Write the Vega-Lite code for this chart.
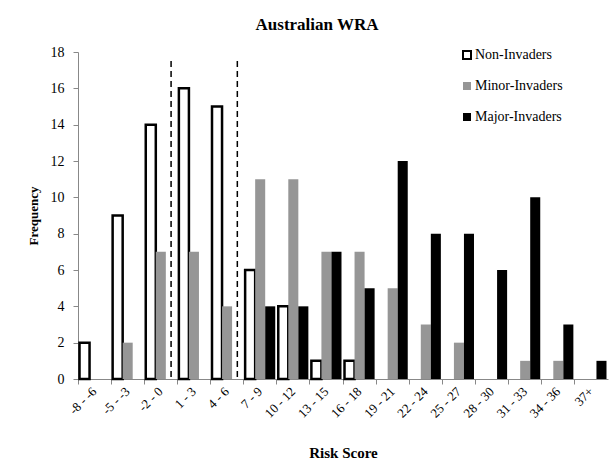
{
  "$schema": "https://vega.github.io/schema/vega-lite/v6.json",
  "width": 530,
  "height": 327,
  "autosize": {"type": "none"},
  "padding": {"left": 78, "top": 52, "right": 5, "bottom": 86},
  "background": "white",
  "title": {"text": "Australian WRA", "font": "Liberation Serif", "fontSize": 17, "fontWeight": "bold", "color": "black", "anchor": "middle", "offset": 11, "dx": -26},
  "config": {"view": {"stroke": null}, "font": "Liberation Serif"},
  "datasets": {
    "bars": [
      {"score": "-8 - -6", "group": "Non-Invaders", "count": 2},
      {"score": "-5 - -3", "group": "Non-Invaders", "count": 9},
      {"score": "-5 - -3", "group": "Minor-Invaders", "count": 2},
      {"score": "-2 - 0", "group": "Non-Invaders", "count": 14},
      {"score": "-2 - 0", "group": "Minor-Invaders", "count": 7},
      {"score": "1 - 3", "group": "Non-Invaders", "count": 16},
      {"score": "1 - 3", "group": "Minor-Invaders", "count": 7},
      {"score": "4 - 6", "group": "Non-Invaders", "count": 15},
      {"score": "4 - 6", "group": "Minor-Invaders", "count": 4},
      {"score": "7 - 9", "group": "Non-Invaders", "count": 6},
      {"score": "7 - 9", "group": "Minor-Invaders", "count": 11},
      {"score": "7 - 9", "group": "Major-Invaders", "count": 4},
      {"score": "10 - 12", "group": "Non-Invaders", "count": 4},
      {"score": "10 - 12", "group": "Minor-Invaders", "count": 11},
      {"score": "10 - 12", "group": "Major-Invaders", "count": 4},
      {"score": "13 - 15", "group": "Non-Invaders", "count": 1},
      {"score": "13 - 15", "group": "Minor-Invaders", "count": 7},
      {"score": "13 - 15", "group": "Major-Invaders", "count": 7},
      {"score": "16 - 18", "group": "Non-Invaders", "count": 1},
      {"score": "16 - 18", "group": "Minor-Invaders", "count": 7},
      {"score": "16 - 18", "group": "Major-Invaders", "count": 5},
      {"score": "19 - 21", "group": "Minor-Invaders", "count": 5},
      {"score": "19 - 21", "group": "Major-Invaders", "count": 12},
      {"score": "22 - 24", "group": "Minor-Invaders", "count": 3},
      {"score": "22 - 24", "group": "Major-Invaders", "count": 8},
      {"score": "25 - 27", "group": "Minor-Invaders", "count": 2},
      {"score": "25 - 27", "group": "Major-Invaders", "count": 8},
      {"score": "28 - 30", "group": "Major-Invaders", "count": 6},
      {"score": "31 - 33", "group": "Minor-Invaders", "count": 1},
      {"score": "31 - 33", "group": "Major-Invaders", "count": 10},
      {"score": "34 - 36", "group": "Minor-Invaders", "count": 1},
      {"score": "34 - 36", "group": "Major-Invaders", "count": 3},
      {"score": "37+", "group": "Major-Invaders", "count": 1}
    ],
    "lines": [
      {"score": "-2 - 0", "top": 17.5, "bottom": 0},
      {"score": "4 - 6", "top": 17.5, "bottom": 0}
    ]
  },
  "layer": [
    {
      "data": {"name": "bars"},
      "mark": {"type": "bar", "strokeWidth": 2.5},
      "encoding": {
        "x": {
          "field": "score", "type": "nominal",
          "scale": {"domain": ["-8 - -6", "-5 - -3", "-2 - 0", "1 - 3", "4 - 6", "7 - 9", "10 - 12", "13 - 15", "16 - 18", "19 - 21", "22 - 24", "25 - 27", "28 - 30", "31 - 33", "34 - 36", "37+"], "paddingInner": 0, "paddingOuter": 0},
          "axis": {"orient": "bottom", "bandPosition": 0, "labels": false, "title": null, "domainColor": "#888888", "tickColor": "#888888", "tickSize": 5, "grid": false}
        },
        "xOffset": {
          "field": "group",
          "scale": {"domain": ["Non-Invaders", "Minor-Invaders", "Major-Invaders"], "paddingInner": 0, "paddingOuter": 0.15}
        },
        "y": {
          "field": "count", "type": "quantitative",
          "scale": {"domain": [0, 18], "nice": false},
          "axis": {"values": [0, 2, 4, 6, 8, 10, 12, 14, 16, 18], "tickCount": 10, "labelOverlap": false, "grid": false, "domainColor": "#888888", "tickColor": "#888888", "tickSize": 5, "labelPadding": 9, "labelFont": "Liberation Serif", "labelFontSize": 14, "labelColor": "black", "title": "Frequency", "titleFont": "Liberation Serif", "titleFontSize": 13, "titleFontWeight": "bold", "titleColor": "black", "titlePadding": 10}
        },
        "fill": {
          "field": "group", "type": "nominal",
          "scale": {"domain": ["Non-Invaders", "Minor-Invaders", "Major-Invaders"], "range": ["white", "#969696", "black"]},
          "legend": {"title": null, "orient": "none", "legendX": 382, "legendY": -4, "padding": 0, "symbolType": "square", "symbolSize": 64, "symbolStrokeWidth": 2, "labelFont": "Liberation Serif", "labelFontSize": 14, "labelColor": "black", "labelOffset": 1, "rowPadding": 15}
        },
        "stroke": {
          "field": "group", "type": "nominal",
          "scale": {"domain": ["Non-Invaders", "Minor-Invaders", "Major-Invaders"], "range": ["black", "transparent", "transparent"]},
          "legend": {"title": null, "orient": "none", "legendX": 382, "legendY": -4, "padding": 0, "symbolType": "square", "symbolSize": 64, "symbolStrokeWidth": 2, "labelFont": "Liberation Serif", "labelFontSize": 14, "labelColor": "black", "labelOffset": 1, "rowPadding": 15}
        }
      }
    },
    {
      "data": {"name": "lines"},
      "mark": {"type": "rule", "strokeDash": [6, 4], "strokeWidth": 1.5, "color": "black"},
      "encoding": {
        "x": {
          "field": "score", "type": "nominal", "bandPosition": 0.81,
          "scale": {"domain": ["-8 - -6", "-5 - -3", "-2 - 0", "1 - 3", "4 - 6", "7 - 9", "10 - 12", "13 - 15", "16 - 18", "19 - 21", "22 - 24", "25 - 27", "28 - 30", "31 - 33", "34 - 36", "37+"], "paddingInner": 0, "paddingOuter": 0},
          "axis": {"orient": "bottom", "bandPosition": 0.5, "domain": false, "ticks": false, "grid": false, "labelAngle": -45, "labelAlign": "right", "labelBaseline": "middle", "labelPadding": 10, "labelFont": "Liberation Serif", "labelFontSize": 13, "labelColor": "black", "title": "Risk Score", "titleFont": "Liberation Serif", "titleFontSize": 15, "titleFontWeight": "bold", "titleColor": "black", "titlePadding": 26}
        },
        "y": {
          "field": "top", "type": "quantitative",
          "scale": {"domain": [0, 18], "nice": false},
          "axis": {"values": [0, 2, 4, 6, 8, 10, 12, 14, 16, 18], "tickCount": 10, "labelOverlap": false, "grid": false, "domainColor": "#888888", "tickColor": "#888888", "tickSize": 5, "labelPadding": 9, "labelFont": "Liberation Serif", "labelFontSize": 14, "labelColor": "black", "title": "Frequency", "titleFont": "Liberation Serif", "titleFontSize": 13, "titleFontWeight": "bold", "titleColor": "black", "titlePadding": 10}
        },
        "y2": {"field": "bottom"}
      }
    }
  ],
  "resolve": {"axis": {"x": "independent"}}
}
